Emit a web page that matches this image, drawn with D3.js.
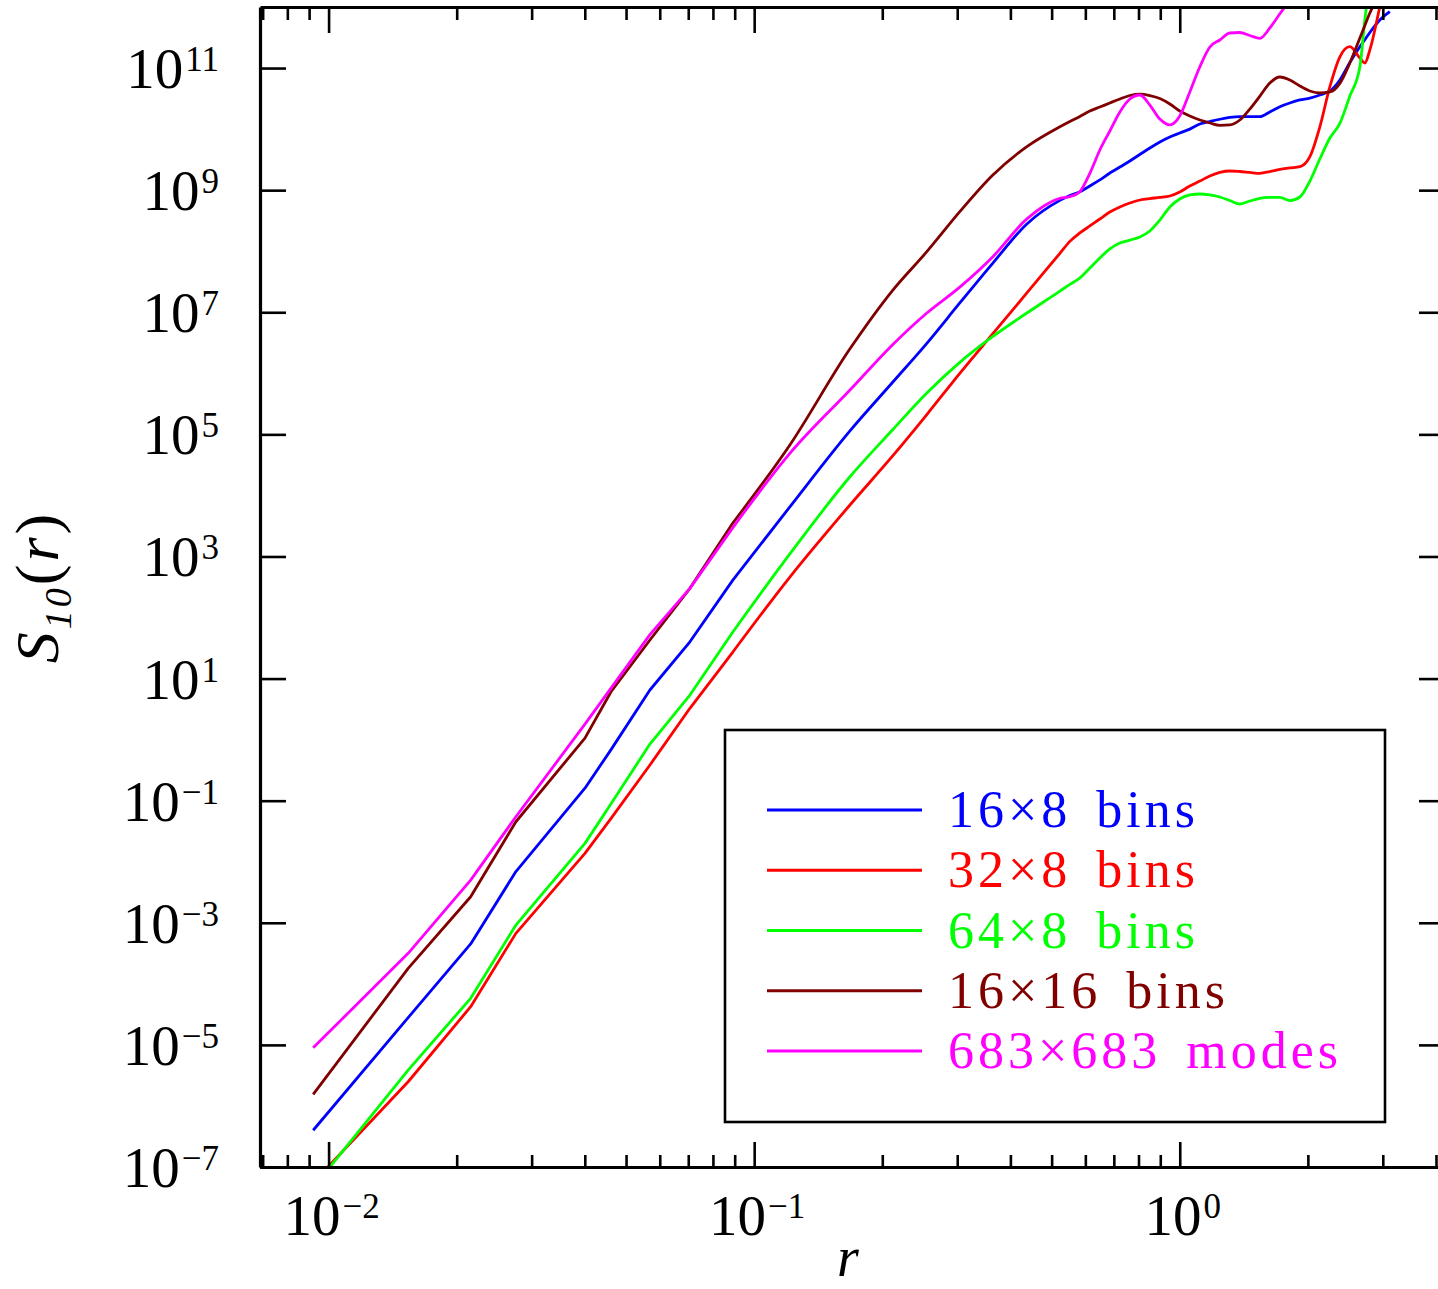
<!DOCTYPE html>
<html>
<head>
<meta charset="utf-8">
<script src="https://cdnjs.cloudflare.com/ajax/libs/d3/7.8.5/d3.min.js"></script>
<style>
  html, body { margin: 0; padding: 0; background: #fff; }
  svg { display: block; }
  text { font-family: "Liberation Serif", "Times New Roman", serif; fill: #000; }
</style>
</head>
<body>
<div id="chart"></div>
<script>
// separation r where S_10 was sampled (shared by all runs)
var rValues = [0.0092, 0.01538, 0.02157, 0.02755, 0.04003, 0.04606, 0.05689, 0.07063, 0.0891, 0.1213,
  0.1679, 0.2118, 0.2545, 0.3042, 0.3638, 0.4373, 0.5229, 0.5518, 0.5824, 0.6148,
  0.6490, 0.6851, 0.7233, 0.7634, 0.8058, 0.8507, 0.8980, 0.9478, 1.000, 1.056,
  1.115, 1.177, 1.242, 1.311, 1.384, 1.461, 1.543, 1.628, 1.719, 1.814,
  1.915, 2.022, 2.134, 2.253, 2.378, 2.510, 2.650, 2.722, 2.797, 2.952, 3.116];

// S_10(r) for each run (null = off the top of the plot)
var bins16x8 = [4.0e-7, 2.8e-5, 4.5e-4, 6.9e-3, 0.16, 0.68, 6.5, 40, 410, 6.5e3,
  1.14e5, 7.2e5, 3.1e6, 1.42e7, 6.4e7, 2.8e8, 6.8e8, 8.2e8, 9.4e8, 1.17e9,
  1.47e9, 1.91e9, 2.39e9, 3.0e9, 3.84e9, 4.9e9, 6.15e9, 7.43e9, 8.63e9, 1.0e10,
  1.21e10, 1.33e10, 1.45e10, 1.55e10, 1.6e10, 1.6e10, 1.6e10, 1.91e10, 2.33e10, 2.68e10,
  3.0e10, 3.23e10, 3.62e10, 4.21e10, 6.37e10, 1.23e11, 2.24e11, 2.92e11, 3.82e11, 6.12e11, 8.37e11];

var bins32x8 = [5.55e-8, 2.49e-6, 4.22e-5, 6.71e-4, 1.37e-2, 5.08e-2, 0.384, 3.26, 27.2, 460,
  6.97e3, 4.47e4, 2.11e5, 1.0e6, 4.46e6, 2.07e7, 9.25e7, 1.45e8, 1.99e8, 2.59e8,
  3.37e8, 4.39e8, 5.30e8, 6.17e8, 6.90e8, 7.29e8, 7.59e8, 8.02e8, 9.33e8, 1.17e9,
  1.41e9, 1.71e9, 1.95e9, 2.06e9, 2.02e9, 1.95e9, 1.89e9, 2.02e9, 2.18e9, 2.31e9,
  2.42e9, 3.53e9, 1.09e10, 4.95e10, 1.53e11, 2.24e11, 1.46e11, 1.21e11, 1.98e11, 1.01e12, 5.89e12];

var bins64x8 = [4.57e-8, 3.87e-6, 5.79e-5, 9.18e-4, 2.0e-2, 8.81e-2, 0.847, 5.38, 57.8, 1.10e3,
  2.02e4, 1.20e5, 4.75e5, 1.51e6, 4.01e6, 9.72e6, 2.22e7, 2.86e7, 3.64e7, 5.31e7,
  7.74e7, 1.09e8, 1.36e8, 1.52e8, 1.71e8, 2.14e8, 3.24e8, 5.30e8, 7.16e8, 8.34e8,
  8.65e8, 8.34e8, 7.73e8, 6.76e8, 5.93e8, 6.64e8, 7.35e8, 7.59e8, 7.64e8, 6.76e8,
  7.73e8, 1.41e9, 3.24e9, 7.14e9, 1.24e10, 3.48e10, 1.05e11, 6.12e11, 2.77e12, null, null];

var bins16x16 = [1.55e-6, 1.79e-4, 2.67e-3, 4.52e-2, 1.06, 6.03, 42.8, 301, 3.53e3, 6.7e4,
  2.52e6, 2.31e7, 9.82e7, 4.44e8, 1.77e9, 5.15e9, 1.09e10, 1.33e10, 1.61e10, 1.98e10,
  2.30e10, 2.68e10, 3.11e10, 3.55e10, 3.73e10, 3.55e10, 3.17e10, 2.58e10, 1.98e10, 1.64e10,
  1.41e10, 1.26e10, 1.15e10, 1.17e10, 1.41e10, 2.13e10, 3.48e10, 5.69e10, 7.13e10, 6.37e10,
  5.08e10, 4.21e10, 3.90e10, 4.06e10, 5.62e10, 1.21e11, 3.10e11, 4.98e11, 7.98e11, 1.57e12, null];

var modes683 = [8.97e-6, 3.16e-4, 5.01e-3, 5.46e-2, 1.79, 6.92, 52.5, 300, 2.97e3, 4.88e4,
  5.32e5, 2.97e6, 9.72e6, 2.58e7, 8.13e7, 3.38e8, 7.36e8, 7.82e8, 9.44e8, 1.89e9,
  4.55e9, 9.31e9, 1.91e10, 3.11e10, 3.62e10, 2.48e10, 1.46e10, 1.17e10, 1.64e10, 4.06e10,
  1.05e11, 2.21e11, 2.88e11, 3.75e11, 3.82e11, 3.41e11, 3.07e11, 4.53e11, 7.74e11, 1.30e12,
  null, null, null, null, null, null, null, null, null, null, null];

var seriesNames = ["16×8 bins", "32×8 bins", "64×8 bins", "16×16 bins", "683×683 modes"];
var seriesValues = [bins16x8, bins32x8, bins64x8, bins16x16, modes683];
var seriesColors = ["#0000ff", "#ff0000", "#00ff00", "#800000", "#ff00ff"];

// ticks
var xMajorTicks = [0.01, 0.1, 1];
var xMajorLabels = ["\u22122", "\u22121", "0"];
var xMinorTicks = [0.007, 0.008, 0.009, 0.02, 0.03, 0.04, 0.05, 0.06, 0.07, 0.08, 0.09,
  0.2, 0.3, 0.4, 0.5, 0.6, 0.7, 0.8, 0.9, 2, 3, 4];
var yTicks = [1e-7, 1e-5, 1e-3, 1e-1, 1e1, 1e3, 1e5, 1e7, 1e9, 1e11];
var yTickLabels = ["\u22127", "\u22125", "\u22123", "\u22121", "1", "3", "5", "7", "9", "11"];

var width = 1438, height = 1289;
var plot = { left: 260, right: 1445, top: 7, bottom: 1167 };
// below this r the sampled points are sparse and are joined by straight segments
var coarseEnd = 8;

var x = d3.scaleLog().domain([0.0069, 4.2]).range([plot.left, plot.right]);
var y = d3.scaleLog().domain([1e-7, 1e12]).range([plot.bottom, plot.top]);

var svg = d3.select("#chart").append("svg")
    .attr("width", width)
    .attr("height", height);

svg.append("defs").append("clipPath").attr("id", "plotclip")
    .append("rect")
    .attr("x", plot.left).attr("y", plot.top)
    .attr("width", plot.right - plot.left).attr("height", plot.bottom - plot.top);

// curves
var lineCoarse = d3.line()
    .defined(function (d) { return d.s != null; })
    .x(function (d) { return x(d.r); })
    .y(function (d) { return y(d.s); });
var lineFine = d3.line()
    .defined(function (d) { return d.s != null; })
    .x(function (d) { return x(d.r); })
    .y(function (d) { return y(d.s); })
    .curve(d3.curveMonotoneX);

var curves = svg.append("g").attr("clip-path", "url(#plotclip)");
seriesValues.forEach(function (vals, i) {
    var pts = rValues.map(function (r, j) { return { r: r, s: vals[j] }; });
    var d = lineCoarse(pts.slice(0, coarseEnd + 1)) + lineFine(pts.slice(coarseEnd));
    curves.append("path")
        .attr("fill", "none")
        .attr("stroke", seriesColors[i])
        .attr("stroke-width", 2.8)
        .attr("stroke-linejoin", "round")
        .attr("d", d);
});

// axes: majors carry the frame line, minors only ticks
function styleAxis(g, keepDomain) {
    g.selectAll(".tick text").remove();
    g.selectAll(".tick line").attr("stroke", "#000").attr("stroke-width", 2.6);
    if (keepDomain) g.select(".domain").attr("stroke", "#000").attr("stroke-width", 3.2);
    else g.select(".domain").remove();
}

svg.append("g").attr("transform", "translate(0," + plot.bottom + ")")
    .call(d3.axisBottom(x).tickValues(xMajorTicks).tickSizeInner(-25).tickSizeOuter(0).tickFormat(""))
    .call(styleAxis, true);
svg.append("g").attr("transform", "translate(0," + plot.bottom + ")")
    .call(d3.axisBottom(x).tickValues(xMinorTicks).tickSizeInner(-12).tickSizeOuter(0).tickFormat(""))
    .call(styleAxis, false);
svg.append("g").attr("transform", "translate(0," + plot.top + ")")
    .call(d3.axisTop(x).tickValues(xMajorTicks).tickSizeInner(-26).tickSizeOuter(0).tickFormat(""))
    .call(styleAxis, true);
svg.append("g").attr("transform", "translate(0," + plot.top + ")")
    .call(d3.axisTop(x).tickValues(xMinorTicks).tickSizeInner(-13).tickSizeOuter(0).tickFormat(""))
    .call(styleAxis, false);
svg.append("g").attr("transform", "translate(" + plot.left + ",0)")
    .call(d3.axisLeft(y).tickValues(yTicks).tickSizeInner(-26).tickSizeOuter(0).tickFormat(""))
    .call(styleAxis, true);
svg.append("g").attr("transform", "translate(" + plot.right + ",0)")
    .call(d3.axisRight(y).tickValues(yTicks).tickSizeInner(-26).tickSizeOuter(0).tickFormat(""))
    .call(styleAxis, true);

// tick labels as 10^n
function powerLabel(sel, exp) {
    sel.append("tspan").text("10");
    sel.append("tspan").attr("font-size", 35).attr("dy", -17).attr("dx", 2).text(exp);
}

xMajorTicks.forEach(function (v, i) {
    svg.append("text")
        .attr("x", x(v) + 3)
        .attr("y", 1235)
        .attr("text-anchor", "middle")
        .attr("font-size", 57)
        .call(powerLabel, xMajorLabels[i]);
});

yTicks.forEach(function (v, i) {
    svg.append("text")
        .attr("x", 219)
        .attr("y", y(v) + 20)
        .attr("text-anchor", "end")
        .attr("font-size", 57)
        .call(powerLabel, yTickLabels[i]);
});

// axis titles
svg.append("text")
    .attr("x", 848)
    .attr("y", 1276)
    .attr("text-anchor", "middle")
    .attr("font-size", 56)
    .attr("font-style", "italic")
    .text("r");

var ytitle = svg.append("text")
    .attr("transform", "translate(58," + ((plot.top + plot.bottom) / 2) + ") rotate(-90)")
    .attr("text-anchor", "middle")
    .attr("font-size", 62)
    .attr("letter-spacing", 3);
ytitle.append("tspan").attr("font-style", "italic").text("S");
ytitle.append("tspan").attr("font-style", "italic").attr("font-size", 38).attr("dy", 13).text("10");
ytitle.append("tspan").attr("dy", -13).text("(");
ytitle.append("tspan").attr("font-style", "italic").text("r");
ytitle.append("tspan").text(")");

// legend
var legend = svg.append("g");
legend.append("rect")
    .attr("x", 725).attr("y", 730)
    .attr("width", 660).attr("height", 392)
    .attr("fill", "#fff")
    .attr("stroke", "#000")
    .attr("stroke-width", 2.6);

seriesNames.forEach(function (name, i) {
    var ly = 810 + i * 60.25;
    legend.append("line")
        .attr("x1", 767).attr("x2", 922)
        .attr("y1", ly).attr("y2", ly)
        .attr("stroke", seriesColors[i])
        .attr("stroke-width", 2.8);
    legend.append("text")
        .attr("x", 948)
        .attr("y", ly + 17)
        .attr("font-size", 52)
        .attr("letter-spacing", 4)
        .attr("word-spacing", 8)
        .style("fill", seriesColors[i])
        .text(name);
});
</script>
</body>
</html>
